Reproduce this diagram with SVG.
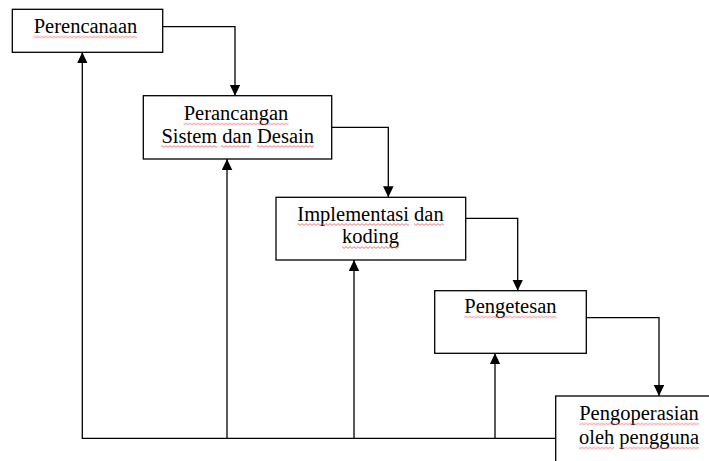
<svg xmlns="http://www.w3.org/2000/svg" width="709" height="461" viewBox="0 0 709 461">
  <style>
    .box { fill: #fff; stroke: #000; stroke-width: 1.3; }
    .lbl { font-family: "Liberation Serif", "Times New Roman", serif; font-size: 20.5px; fill: #000; text-anchor: middle; }
    .conn { fill: none; stroke: #000; stroke-width: 1.3; }
    .sq { fill: url(#squig); }
  </style>
  <defs>
    <marker id="arr" markerUnits="userSpaceOnUse" markerWidth="11" markerHeight="11" refX="11" refY="5.25" orient="auto">
      <path d="M0,0 L11,5.25 L0,10.5 Z" fill="#000"/>
    </marker>
    <pattern id="squig" width="4" height="3" patternUnits="userSpaceOnUse">
      <path d="M0,2.4 L2,0.6 L4,2.4" fill="none" stroke="#e85555" stroke-width="0.8"/>
    </pattern>
  </defs>

  <g id="connectors">
    <path class="conn" d="M162.7,26.7 H235 V95.7" marker-end="url(#arr)"/>
    <path class="conn" d="M331.7,127.3 H388.3 V197.3" marker-end="url(#arr)"/>
    <path class="conn" d="M465.7,218.3 H517.7 V290.7" marker-end="url(#arr)"/>
    <path class="conn" d="M586.3,317.7 H659 V396" marker-end="url(#arr)"/>
    <path class="conn" d="M555.7,438.3 H82.3 V52.3" marker-end="url(#arr)"/>
    <path class="conn" d="M227,438.3 V159" marker-end="url(#arr)"/>
    <path class="conn" d="M354,438.3 V260" marker-end="url(#arr)"/>
    <path class="conn" d="M495,438.3 V353.3" marker-end="url(#arr)"/>
  </g>

  <g id="perencanaan">
    <rect class="box" x="12.3" y="9.3" width="150.4" height="43"/>
    <text class="lbl" x="85.5" y="33.3">Perencanaan</text>
    <rect class="sq" transform="translate(0,35.5)" x="33.7" y="0" width="103.6" height="3"/>
  </g>

  <g id="perancangan">
    <rect class="box" x="143.3" y="95.7" width="188.4" height="63.3"/>
    <text class="lbl" x="236" y="120">Perancangan</text>
    <text class="lbl" x="237.7" y="142.7">Sistem dan Desain</text>
    <rect class="sq" transform="translate(0,122.5)" x="183.6" y="0" width="104.8" height="3"/>
    <rect class="sq" transform="translate(0,145)" x="161.4" y="0" width="55.8" height="3"/>
    <rect class="sq" transform="translate(0,145)" x="221" y="0" width="29" height="3"/>
    <rect class="sq" transform="translate(0,145)" x="257" y="0" width="57" height="3"/>
  </g>

  <g id="implementasi">
    <rect class="box" x="276" y="197.3" width="189.7" height="62.7"/>
    <text class="lbl" x="370.5" y="220.7">Implementasi dan</text>
    <text class="lbl" x="370.5" y="243.3">koding</text>
    <rect class="sq" transform="translate(0,223)" x="297.4" y="0" width="111.6" height="3"/>
    <rect class="sq" transform="translate(0,223)" x="414.1" y="0" width="29.6" height="3"/>
    <rect class="sq" transform="translate(0,246)" x="342" y="0" width="57" height="3"/>
  </g>

  <g id="pengetesan">
    <rect class="box" x="434.7" y="290.7" width="151.6" height="62.6"/>
    <text class="lbl" x="510.4" y="313.3">Pengetesan</text>
    <rect class="sq" transform="translate(0,315.5)" x="464.3" y="0" width="92.2" height="3"/>
  </g>

  <g id="pengoperasian">
    <rect class="box" x="555.7" y="396" width="166.6" height="100"/>
    <text class="lbl" x="639" y="420">Pengoperasian</text>
    <text class="lbl" x="639" y="444">oleh pengguna</text>
    <rect class="sq" transform="translate(0,422.5)" x="579.2" y="0" width="119.6" height="3"/>
    <rect class="sq" transform="translate(0,446.5)" x="579" y="0" width="35.3" height="3"/>
    <rect class="sq" transform="translate(0,446.5)" x="619.4" y="0" width="79.7" height="3"/>
  </g>
</svg>
